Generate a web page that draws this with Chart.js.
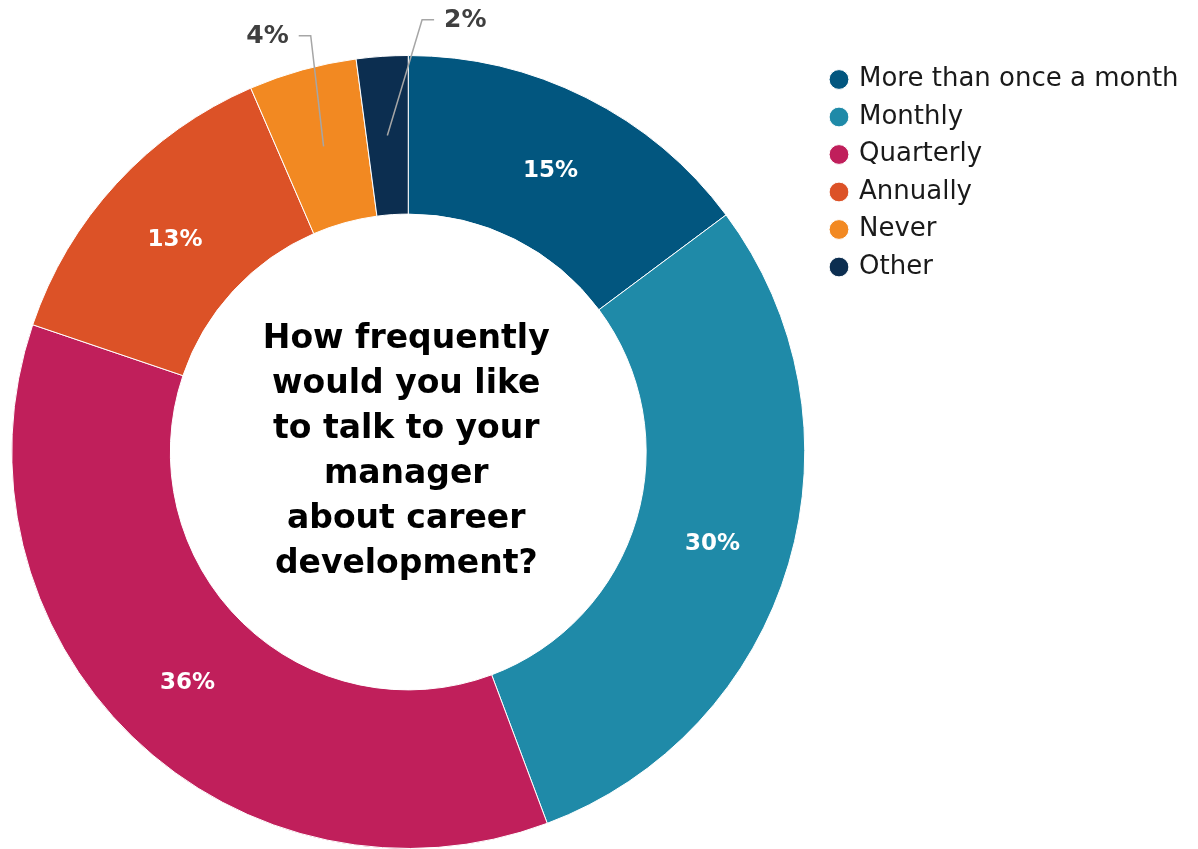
<!DOCTYPE html>
<html>
<head>
<meta charset="utf-8">
<script src="https://cdn.jsdelivr.net/npm/chart.js@4.4.1/dist/chart.umd.min.js"></script>
<style>
  html, body { margin: 0; padding: 0; background: #fff; overflow: hidden; }
  #careerDonut { display: block; margin-left: -4px; }
</style>
</head>
<body>
<canvas id="careerDonut" width="1202" height="849"></canvas>
<script>
// data
var categories = ["More than once a month", "Monthly", "Quarterly", "Annually", "Never", "Other"];
var shares = [14.8, 29.5, 35.9, 13.3, 4.4, 2.1];
var shareLabels = ["15%", "30%", "36%", "13%", "4%", "2%"];
var sliceColors = ["#02567f", "#1f8aa8", "#c01f5b", "#dc5227", "#f28922", "#0c2e50"];
var centerLines = ["How frequently", "would you like", "to talk to your", "manager", "about career", "development?"];

var FONT = "'DejaVu Sans', sans-serif";
var legendSize = 26, legendPad = 11.5, legendBox = 14;

// small slices get an outside label with a leader line
var callouts = {
    4: { turn: 0.040, reach: 31, dir: -1 },
    5: { turn: 0.098, reach: 36, dir: 1 }
};

// legend width the way chart.js fits it, so the ring keeps its place
var measure = document.createElement("canvas").getContext("2d");
measure.font = "normal " + legendSize + "px " + FONT;
var widest = 0;
categories.forEach(function (c) {
    widest = Math.max(widest, measure.measureText(c).width);
});
var legendW = legendPad + legendBox + legendSize / 2 + widest + 10;
var padRight = 1202 - 824.5 - legendW;

var sliceLabels = {
    id: "sliceLabels",
    afterDatasetsDraw: function (chart) {
        var ctx = chart.ctx;
        var arcs = chart.getDatasetMeta(0).data;
        ctx.save();
        ctx.textBaseline = "middle";
        arcs.forEach(function (arc, i) {
            var c = callouts[i];
            if (!c) {
                var p = arc.tooltipPosition();
                ctx.font = "bold 23px " + FONT;
                ctx.fillStyle = "#ffffff";
                ctx.textAlign = "center";
                ctx.fillText(shareLabels[i], p.x, p.y + 3);
                return;
            }
            var mid = (arc.startAngle + arc.endAngle) / 2;
            var rMid = (arc.innerRadius + arc.outerRadius) / 2;
            var x0 = arc.x + Math.cos(mid) * rMid;
            var y0 = arc.y + Math.sin(mid) * rMid;
            var a = mid + c.turn;
            var r1 = arc.outerRadius + c.reach;
            var x1 = arc.x + Math.cos(a) * r1;
            var y1 = arc.y + Math.sin(a) * r1;
            var x2 = x1 + c.dir * 12;
            ctx.strokeStyle = "#a6a6a6";
            ctx.lineWidth = 1.5;
            ctx.beginPath();
            ctx.moveTo(x0, y0);
            ctx.lineTo(x1, y1);
            ctx.lineTo(x2, y1);
            ctx.stroke();
            ctx.font = "bold 25px " + FONT;
            ctx.fillStyle = "#3f3f3f";
            ctx.textAlign = c.dir < 0 ? "right" : "left";
            ctx.fillText(shareLabels[i], x2 + c.dir * 10, y1 + 1);
        });

        // question in the hole
        var cx = arcs[0].x, cy = arcs[0].y;
        ctx.font = "bold 33px " + FONT;
        ctx.fillStyle = "#000000";
        ctx.textAlign = "center";
        centerLines.forEach(function (line, i) {
            ctx.fillText(line, cx - 2, cy + (i - (centerLines.length - 1) / 2) * 45);
        });
        ctx.restore();
    }
};

var ctxD = document.getElementById("careerDonut");
var donut = new Chart(ctxD, {
    type: "doughnut",
    data: {
        labels: categories,
        datasets: [{
            data: shares,
            backgroundColor: sliceColors,
            borderColor: "#ffffff",
            borderWidth: 1,
            hoverOffset: 0
        }]
    },
    options: {
        responsive: false,
        animation: false,
        cutout: "60%",
        layout: {
            padding: { top: 55, bottom: 0, left: 0, right: padRight }
        },
        plugins: {
            legend: {
                position: "right",
                align: "start",
                labels: {
                    usePointStyle: true,
                    pointStyle: "circle",
                    boxWidth: legendBox,
                    boxHeight: legendBox,
                    padding: legendPad,
                    color: "#1a1a1a",
                    font: { family: FONT, size: legendSize }
                }
            },
            tooltip: { enabled: false }
        }
    },
    plugins: [sliceLabels]
});
</script>
</body>
</html>
